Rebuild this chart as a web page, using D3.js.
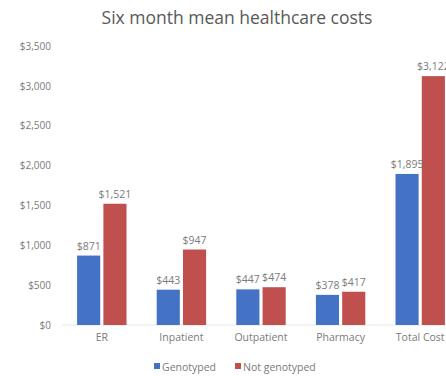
<!DOCTYPE html>
<html>
<head>
<meta charset="utf-8">
<script src="https://cdn.jsdelivr.net/npm/d3@7"></script>
<style>
  body { margin: 0; background: #fff; overflow: hidden; }
  svg { font-family: "Open Sans", sans-serif; }
</style>
</head>
<body>
<svg id="chart"></svg>
<script>
const categories = ['ER', 'Inpatient', 'Outpatient', 'Pharmacy', 'Total Cost']
const seriesNames = ['Genotyped', 'Not genotyped']
const genotyped = [871, 443, 447, 378, 1895]
const notGenotyped = [1521, 947, 474, 417, 3122]
const yTicks = [0, 500, 1000, 1500, 2000, 2500, 3000, 3500]

const colors = ['#4472c4', '#c0504d']
const width = 446
const height = 376
const margin = { top: 46, left: 62, bottom: 51 }
const plotW = 398
const plotH = height - margin.top - margin.bottom

const svg = d3.select('#chart').attr('width', width).attr('height', height)

const x = d3.scaleBand().domain(categories).range([margin.left, margin.left + plotW]).paddingInner(0.3).paddingOuter(0.15)
const x1 = d3.scaleBand().domain(seriesNames).range([0, x.bandwidth()]).padding(0.12)
const y = d3.scaleLinear().domain([0, 3500]).range([margin.top + plotH, margin.top])

// title
svg.append('text')
  .attr('x', 237).attr('y', 24)
  .attr('text-anchor', 'middle')
  .attr('fill', '#595959')
  .attr('font-size', 17.5)
  .text('Six month mean healthcare costs')

// y axis
const fmt = d => '$' + d3.format(',')(d)
const yAxis = svg.append('g')
  .attr('transform', `translate(${margin.left - 9},0)`)
  .call(d3.axisLeft(y).tickValues(yTicks).tickFormat(fmt).tickSize(0).tickPadding(2))
yAxis.select('.domain').remove()
yAxis.selectAll('text').attr('fill', '#7a7a7a').attr('font-size', 10).attr('font-family', '"Open Sans", sans-serif')

// baseline
svg.append('line')
  .attr('x1', margin.left).attr('x2', margin.left + plotW)
  .attr('y1', y(0)).attr('y2', y(0))
  .attr('stroke', '#e6e6e6')

const rows = categories.map((c, i) => ({ cat: c, vals: [genotyped[i], notGenotyped[i]] }))

const groups = svg.append('g').selectAll('g')
  .data(rows).enter().append('g')
  .attr('transform', d => `translate(${x(d.cat)},0)`)

groups.selectAll('rect')
  .data(d => d.vals.map((v, j) => ({ name: seriesNames[j], v, j })))
  .enter().append('rect')
  .attr('x', d => x1(d.name))
  .attr('width', x1.bandwidth())
  .attr('y', d => y(d.v))
  .attr('height', d => y(0) - y(d.v))
  .attr('fill', d => colors[d.j])

groups.selectAll('text.lbl')
  .data(d => d.vals.map((v, j) => ({ name: seriesNames[j], v, j })))
  .enter().append('text')
  .attr('class', 'lbl')
  .attr('x', d => x1(d.name) + x1.bandwidth() / 2)
  .attr('y', d => y(d.v) - 6)
  .attr('text-anchor', 'middle')
  .attr('fill', '#7a7a7a')
  .attr('font-size', 10.5)
  .text(d => fmt(d.v))

// x axis labels
const xAxis = svg.append('g')
  .attr('transform', `translate(0,${y(0)})`)
  .call(d3.axisBottom(x).tickSize(0).tickPadding(9))
xAxis.select('.domain').remove()
xAxis.selectAll('text').attr('fill', '#7a7a7a').attr('font-size', 10.5).attr('font-family', '"Open Sans", sans-serif')

// legend
const legend = svg.append('g').attr('transform', `translate(154,${height - 5})`)
const legX = [0, 81]
seriesNames.forEach((s, i) => {
  const g = legend.append('g').attr('transform', `translate(${legX[i]},0)`)
  g.append('rect').attr('x', 0).attr('y', -8).attr('width', 6).attr('height', 6).attr('fill', colors[i])
  g.append('text').attr('x', 8).attr('y', 0).attr('fill', '#7a7a7a').attr('font-size', 10.5).text(s)
})
</script>
</body>
</html>
